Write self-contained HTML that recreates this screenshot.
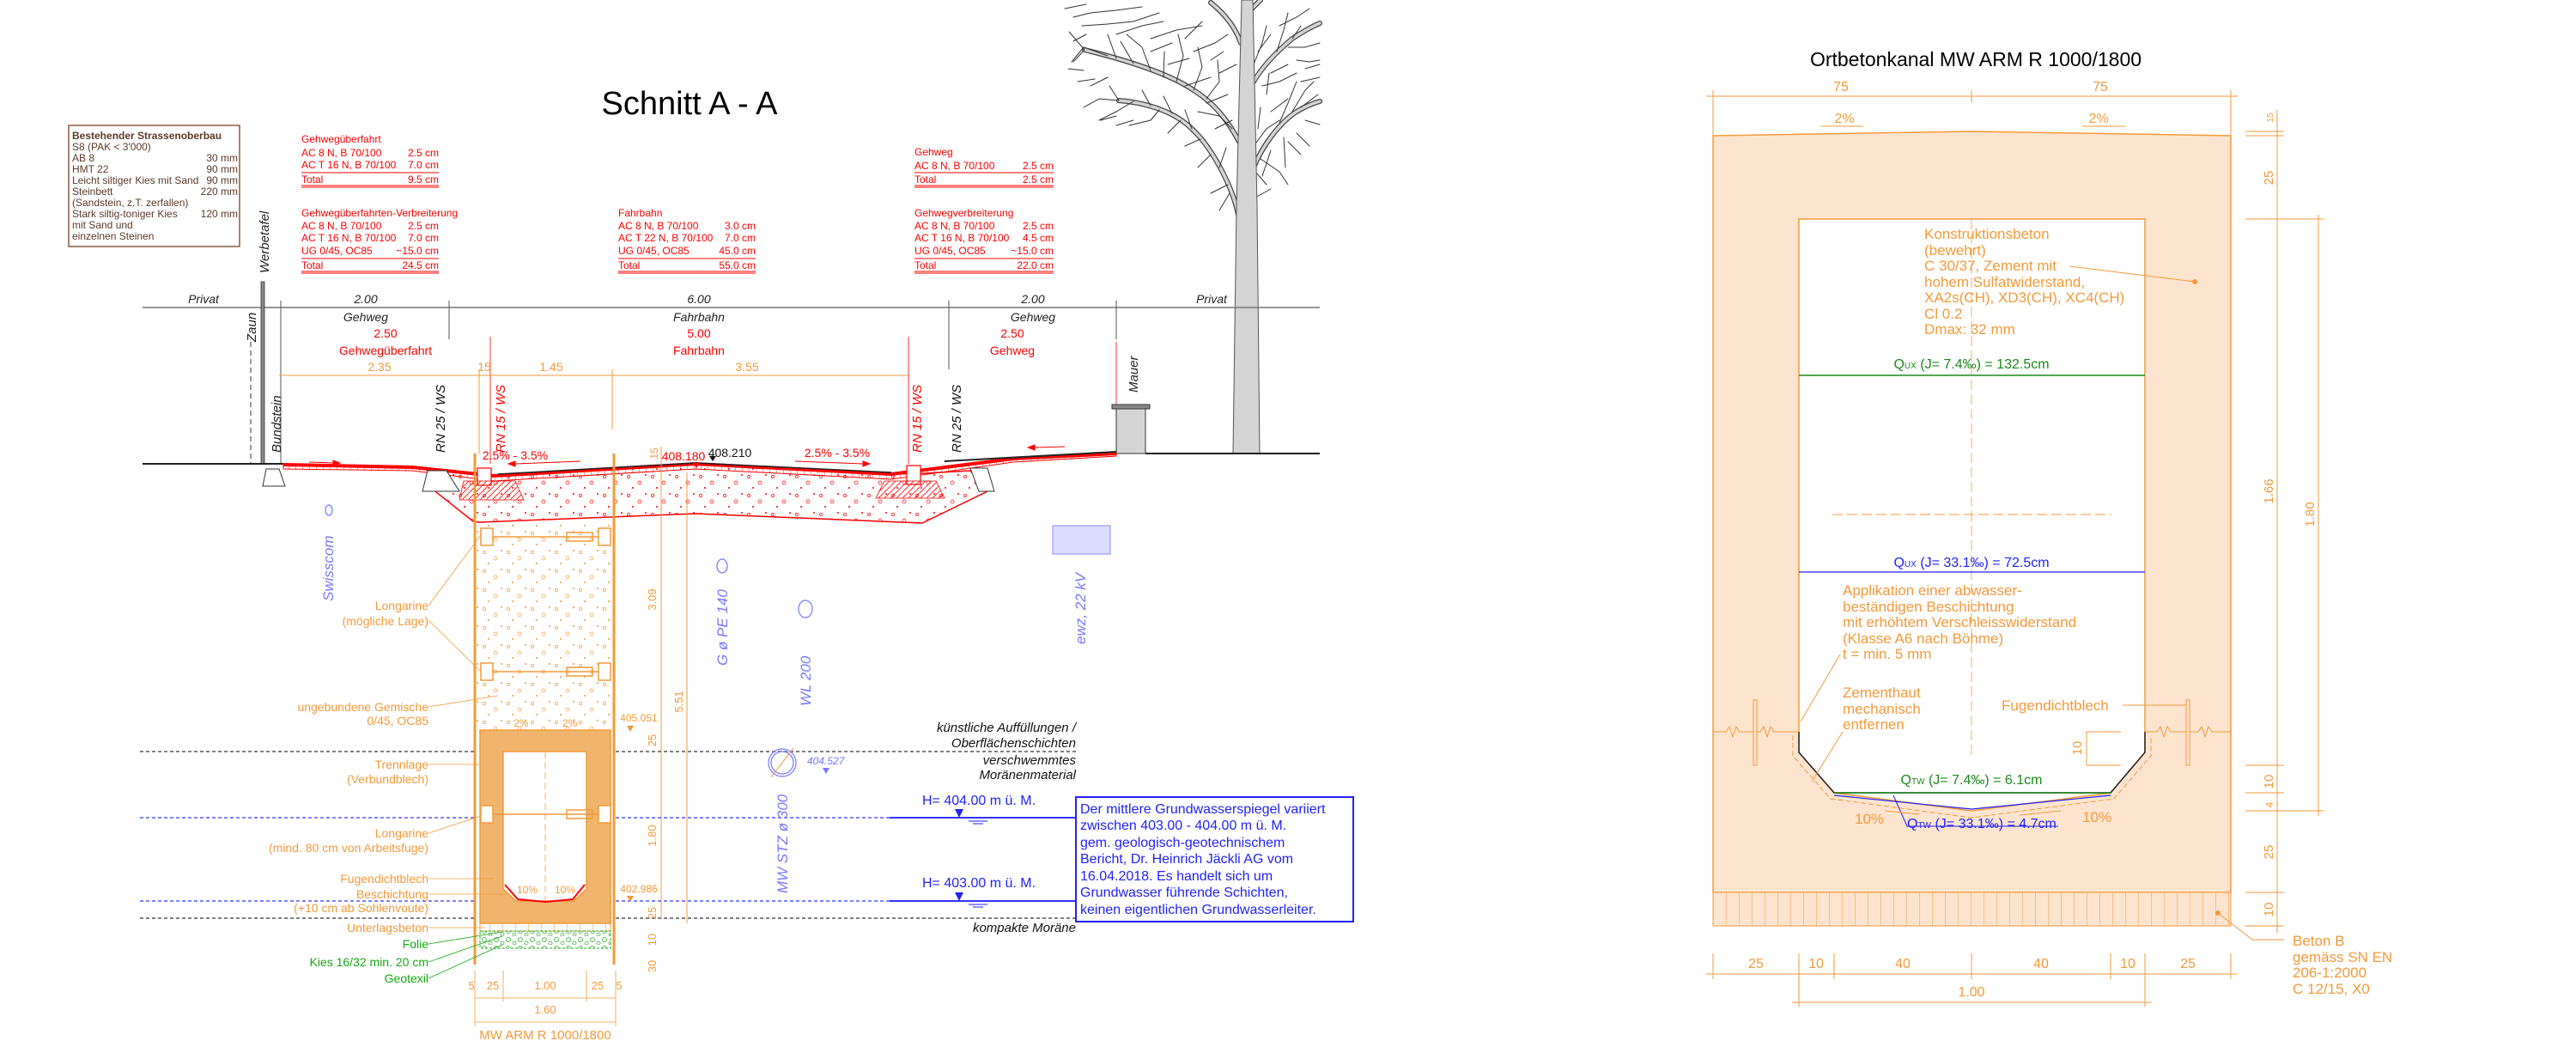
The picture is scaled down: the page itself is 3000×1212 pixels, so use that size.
<!DOCTYPE html>
<html><head><meta charset="utf-8"><style>
html,body{margin:0;padding:0;background:#fff}
svg{display:block}
text{font-family:"Liberation Sans",sans-serif}
</style></head><body>
<svg width="3000" height="1212" viewBox="0 0 3000 1212" xmlns="http://www.w3.org/2000/svg">
<defs>
<pattern id="grav" width="28" height="22" patternUnits="userSpaceOnUse">
<circle cx="4" cy="5" r="1.6" fill="none" stroke="#f00" stroke-width="0.7"/><circle cx="17" cy="12" r="2" fill="none" stroke="#f00" stroke-width="0.7"/><circle cx="9" cy="18" r="1" fill="#f00"/><circle cx="24" cy="3" r="1" fill="#f00"/>
</pattern>
<pattern id="gravo" width="28" height="22" patternUnits="userSpaceOnUse">
<circle cx="4" cy="5" r="1.6" fill="none" stroke="#f39a3a" stroke-width="0.7"/><circle cx="17" cy="12" r="2" fill="none" stroke="#f39a3a" stroke-width="0.7"/><circle cx="9" cy="18" r="1" fill="#f39a3a"/><circle cx="24" cy="3" r="1" fill="#f39a3a"/>
</pattern>
<pattern id="gravg" width="14" height="10" patternUnits="userSpaceOnUse">
<circle cx="4" cy="4" r="2.5" fill="none" stroke="#2a2" stroke-width="0.7"/><circle cx="11" cy="8" r="2" fill="none" stroke="#2a2" stroke-width="0.7"/>
</pattern>
<pattern id="vhat" width="8" height="10" patternUnits="userSpaceOnUse"><line x1="0" y1="0" x2="0" y2="10" stroke="#f00" stroke-width="0.8"/></pattern>
<pattern id="vhato" width="15" height="50" patternUnits="userSpaceOnUse"><line x1="0" y1="0" x2="0" y2="50" stroke="#f39a3a" stroke-width="1"/></pattern>
<pattern id="dhat" width="7" height="7" patternUnits="userSpaceOnUse"><line x1="0" y1="7" x2="7" y2="0" stroke="#f00" stroke-width="0.8"/></pattern>
</defs>

<!-- ===================== LEFT DRAWING ===================== -->
<text x="803" y="133" font-size="38" text-anchor="middle">Schnitt A - A</text>

<rect x="80" y="146" width="199" height="141" fill="none" stroke="#8a5a40" stroke-width="1.5"/>
<g font-size="12" fill="#5a3a2a">
<text x="84" y="162" font-weight="bold">Bestehender Strassenoberbau</text>
<text x="84" y="175">S8 (PAK &lt; 3'000)</text>
<text x="84" y="188">AB 8</text><text x="277" y="188" text-anchor="end">30 mm</text>
<text x="84" y="201">HMT 22</text><text x="277" y="201" text-anchor="end">90 mm</text>
<text x="84" y="214">Leicht siltiger Kies mit Sand</text><text x="277" y="214" text-anchor="end">90 mm</text>
<text x="84" y="227">Steinbett</text><text x="277" y="227" text-anchor="end">220 mm</text>
<text x="84" y="240">(Sandstein, z.T. zerfallen)</text>
<text x="84" y="253">Stark siltig-toniger Kies</text><text x="277" y="253" text-anchor="end">120 mm</text>
<text x="84" y="266">mit Sand und</text>
<text x="84" y="279">einzelnen Steinen</text>
</g>

<g font-size="12" fill="#f00">
<text x="351" y="166">Gehwegüberfahrt</text>
<text x="351" y="182">AC 8 N, B 70/100</text><text x="511" y="182" text-anchor="end">2.5 cm</text>
<text x="351" y="196">AC T 16 N, B 70/100</text><text x="511" y="196" text-anchor="end">7.0 cm</text>
<text x="351" y="213">Total</text><text x="511" y="213" text-anchor="end">9.5 cm</text>
<text x="351" y="252">Gehwegüberfahrten-Verbreiterung</text>
<text x="351" y="267">AC 8 N, B 70/100</text><text x="511" y="267" text-anchor="end">2.5 cm</text>
<text x="351" y="281">AC T 16 N, B 70/100</text><text x="511" y="281" text-anchor="end">7.0 cm</text>
<text x="351" y="296">UG 0/45, OC85</text><text x="511" y="296" text-anchor="end">~15.0 cm</text>
<text x="351" y="313">Total</text><text x="511" y="313" text-anchor="end">24.5 cm</text>
<text x="720" y="252">Fahrbahn</text>
<text x="720" y="267">AC 8 N, B 70/100</text><text x="880" y="267" text-anchor="end">3.0 cm</text>
<text x="720" y="281">AC T 22 N, B 70/100</text><text x="880" y="281" text-anchor="end">7.0 cm</text>
<text x="720" y="296">UG 0/45, OC85</text><text x="880" y="296" text-anchor="end">45.0 cm</text>
<text x="720" y="313">Total</text><text x="880" y="313" text-anchor="end">55.0 cm</text>
<text x="1065" y="181">Gehweg</text>
<text x="1065" y="197">AC 8 N, B 70/100</text><text x="1227" y="197" text-anchor="end">2.5 cm</text>
<text x="1065" y="213">Total</text><text x="1227" y="213" text-anchor="end">2.5 cm</text>
<text x="1065" y="252">Gehwegverbreiterung</text>
<text x="1065" y="267">AC 8 N, B 70/100</text><text x="1227" y="267" text-anchor="end">2.5 cm</text>
<text x="1065" y="281">AC T 16 N, B 70/100</text><text x="1227" y="281" text-anchor="end">4.5 cm</text>
<text x="1065" y="296">UG 0/45, OC85</text><text x="1227" y="296" text-anchor="end">~15.0 cm</text>
<text x="1065" y="313">Total</text><text x="1227" y="313" text-anchor="end">22.0 cm</text>
</g>
<g stroke="#f00" stroke-width="1">
<line x1="351" y1="201" x2="511" y2="201"/><line x1="351" y1="216" x2="511" y2="216"/><line x1="351" y1="218" x2="511" y2="218"/>
<line x1="351" y1="301" x2="511" y2="301"/><line x1="351" y1="316" x2="511" y2="316"/><line x1="351" y1="318" x2="511" y2="318"/>
<line x1="720" y1="301" x2="880" y2="301"/><line x1="720" y1="316" x2="880" y2="316"/><line x1="720" y1="318" x2="880" y2="318"/>
<line x1="1065" y1="201" x2="1227" y2="201"/><line x1="1065" y1="216" x2="1227" y2="216"/><line x1="1065" y1="218" x2="1227" y2="218"/>
<line x1="1065" y1="301" x2="1227" y2="301"/><line x1="1065" y1="316" x2="1227" y2="316"/><line x1="1065" y1="318" x2="1227" y2="318"/>
</g>

<!-- tree -->
<g fill="none" stroke-linecap="round">
<g stroke="#444" stroke-width="6">
<path d="M1442,250 C1435,215 1410,170 1388,150 C1370,132 1340,120 1303,117"/>
<path d="M1443,165 C1430,140 1414,120 1390,105 C1365,88 1320,72 1263,58"/>
<path d="M1445,50 C1438,30 1425,15 1410,3"/>
<path d="M1460,195 C1470,170 1490,143 1510,130 C1520,124 1530,120 1537,118"/>
<path d="M1460,95 C1470,78 1487,60 1505,45 C1520,35 1530,30 1537,27"/>
<path d="M1456,12 L1468,0"/>
</g>
<g stroke="#d4d4d4" stroke-width="3.5">
<path d="M1442,250 C1435,215 1410,170 1388,150 C1370,132 1340,120 1303,117"/>
<path d="M1443,165 C1430,140 1414,120 1390,105 C1365,88 1320,72 1263,58"/>
<path d="M1445,50 C1438,30 1425,15 1410,3"/>
<path d="M1460,195 C1470,170 1490,143 1510,130 C1520,124 1530,120 1537,118"/>
<path d="M1460,95 C1470,78 1487,60 1505,45 C1520,35 1530,30 1537,27"/>
<path d="M1456,12 L1468,0"/>
</g>
<g stroke="#333" stroke-width="1">
<path d="M1263,58 L1245,37 M1263,58 L1250,72 M1290,65 L1262,55 L1248,72 M1300,68 L1290,40 M1320,74 L1305,48 M1340,82 L1330,55 L1312,40 M1355,90 L1356,60 M1370,95 L1378,65 L1372,40 M1390,105 L1400,78 L1395,55 M1405,115 L1420,95 L1418,70"/>
<path d="M1303,117 L1280,115 L1262,125 M1303,117 L1292,100 M1320,118 L1300,130 L1280,140 M1340,123 L1330,105 M1350,128 L1340,140 L1315,146 M1365,132 L1355,112 M1375,140 L1360,155 M1388,150 L1380,128 M1398,162 L1380,170 M1410,180 L1395,195 M1420,195 L1428,172 M1430,215 L1410,225 M1432,225 L1420,245"/>
<path d="M1250,20 L1270,15 L1300,12 L1330,8 M1240,10 L1265,5 M1260,30 L1290,28 L1320,25 L1350,15 M1300,40 L1330,30 L1355,25 M1340,45 L1370,35 L1400,30 M1380,45 L1400,25 M1390,60 L1415,50 L1430,40 M1410,70 L1425,60"/>
<path d="M1250,48 L1265,40 M1244,80 L1262,82 M1255,95 L1275,92 M1270,100 L1290,90 M1282,140 L1300,135 M1300,146 L1320,140"/>
<path d="M1405,120 L1430,110 M1395,130 L1420,135 L1435,150 M1415,150 L1435,140 M1380,100 L1410,90 M1360,75 L1385,68 M1340,60 L1365,50 M1420,85 L1440,75"/>
<path d="M1460,170 L1475,150 L1490,140 M1465,150 L1468,125 M1475,110 L1478,85 M1480,130 L1500,115 M1490,143 L1500,120 L1510,95 M1505,130 L1520,105 L1530,95 M1515,125 L1535,110 M1520,140 L1537,145 M1510,155 L1525,170 M1495,160 L1497,195 M1480,175 L1470,205 M1500,165 L1515,180"/>
<path d="M1460,75 L1470,50 L1475,30 M1465,60 L1480,40 M1487,60 L1495,35 L1500,15 M1490,30 L1510,20 L1525,10 M1500,55 L1520,55 L1537,50 M1505,45 L1515,30 M1510,70 L1525,72 L1537,70 M1470,100 L1490,95 L1510,85 M1480,85 L1500,75 M1515,95 L1537,90 M1520,80 L1537,75"/>
<path d="M1462,200 L1475,215 M1468,185 L1490,200 L1500,215 M1462,230 L1480,220"/>
</g>
</g>
<polygon points="1446,0 1459,0 1464,240 1467,528 1436,528 1440,240" fill="#d4d4d4" stroke="#555" stroke-width="1"/>

<line x1="166" y1="358" x2="1537" y2="358" stroke="#777" stroke-width="1.5"/>
<g font-size="14" font-style="italic" fill="#222" text-anchor="middle">
<text x="237" y="353">Privat</text><text x="1411" y="353">Privat</text>
<text x="426" y="353">2.00</text><text x="814" y="353">6.00</text><text x="1203" y="353">2.00</text>
<text x="426" y="374">Gehweg</text><text x="814" y="374">Fahrbahn</text><text x="1203" y="374">Gehweg</text>
</g>
<g stroke="#555" stroke-width="1">
<line x1="327" y1="350" x2="327" y2="540"/><line x1="523" y1="350" x2="523" y2="395"/><line x1="1105" y1="350" x2="1105" y2="430"/><line x1="1300" y1="350" x2="1300" y2="395"/>
</g>
<g font-size="14" fill="#f00" text-anchor="middle">
<text x="449" y="393">2.50</text><text x="814" y="393">5.00</text><text x="1179" y="393">2.50</text>
<text x="449" y="413">Gehwegüberfahrt</text><text x="814" y="413">Fahrbahn</text><text x="1179" y="413">Gehweg</text>
</g>
<g stroke="#f00" stroke-width="0.8"><line x1="571" y1="392" x2="571" y2="540"/><line x1="1058" y1="392" x2="1058" y2="540"/><line x1="1300" y1="398" x2="1300" y2="512"/></g>
<g font-size="14" fill="#f39a3a" text-anchor="middle">
<text x="442" y="432">2.35</text><text x="564" y="432">15</text><text x="642" y="432">1.45</text><text x="870" y="432">3.55</text>
</g>
<line x1="325" y1="437" x2="1060" y2="437" stroke="#f39a3a" stroke-width="1"/>
<g stroke="#f39a3a" stroke-width="1"><line x1="558" y1="430" x2="558" y2="528"/><line x1="713" y1="430" x2="713" y2="500"/></g>

<g font-size="15" font-style="italic">
<text transform="translate(313,318) rotate(-90)" fill="#222">Werbetafel</text>
<text transform="translate(298,398) rotate(-90)" fill="#222">Zaun</text>
<text transform="translate(327,527) rotate(-90)" fill="#222">Bundstein</text>
<text transform="translate(518,527) rotate(-90)" fill="#111">RN 25 / WS</text>
<text transform="translate(588,527) rotate(-90)" fill="#f00">RN 15 / WS</text>
<text transform="translate(1073,527) rotate(-90)" fill="#f00">RN 15 / WS</text>
<text transform="translate(1119,527) rotate(-90)" fill="#111">RN 25 / WS</text>
<text transform="translate(1325,457) rotate(-90)" fill="#222">Mauer</text>
</g>
<line x1="292" y1="398" x2="292" y2="540" stroke="#333" stroke-dasharray="6,4"/>
<rect x="304" y="328" width="4" height="212" fill="#888" stroke="#333" stroke-width="0.8"/>

<line x1="166" y1="540" x2="330" y2="540" stroke="#222" stroke-width="2"/>
<line x1="1334" y1="528" x2="1537" y2="528" stroke="#222" stroke-width="2"/>
<rect x="1300" y="476" width="34" height="52" fill="#d4d4d4" stroke="#333"/>
<rect x="1295" y="471" width="44" height="5" fill="#888" stroke="#333"/>

<polygon points="498,565 551,607 558,608 810,598 1074,609 1150,572 1130,548 1060,552 810,540 576,553 520,548" fill="url(#grav)" stroke="#f00" stroke-width="1.5"/>
<polygon points="330,540 480,543 576,553 810,539 1038,551 1180,533 1300,528 1300,531 1180,538 1038,558 810,546 576,560 480,548 330,546" fill="url(#vhat)" stroke="#f00" stroke-width="1"/>
<polyline points="330,541 480,544 576,554 810,540 1038,552 1180,534 1300,528" fill="none" stroke="#f00" stroke-width="4"/>
<line x1="1100" y1="537" x2="1300" y2="526" stroke="#222" stroke-width="2"/>
<polyline points="580,552 810,539 1038,550" fill="none" stroke="#222" stroke-width="1.5"/>
<g fill="#fff" stroke="#333" stroke-width="1">
<polygon points="310,546 325,546 332,566 306,566"/>
<polygon points="498,548 520,548 535,572 492,572"/>
<polygon points="1130,545 1150,545 1158,572 1140,572"/>
</g>
<g fill="#fff" stroke="#f00" stroke-width="1.2">
<rect x="556" y="545" width="16" height="20"/><rect x="1056" y="542" width="16" height="22"/>
</g>
<polygon points="540,560 600,560 610,582 535,582" fill="url(#dhat)" stroke="#f00" stroke-width="0.8"/>
<polygon points="1030,560 1090,560 1100,580 1020,580" fill="url(#dhat)" stroke="#f00" stroke-width="0.8"/>
<g fill="#f00" stroke="#f00">
<line x1="360" y1="538" x2="388" y2="539"/><polygon points="388,536 396,539 388,542"/>
<line x1="600" y1="540" x2="676" y2="537"/><polygon points="600,537 592,540 600,543"/>
<line x1="926" y1="537" x2="1005" y2="540"/><polygon points="1005,537 1013,540 1005,543"/>
<line x1="1205" y1="521" x2="1240" y2="520"/><polygon points="1205,518 1197,521 1205,524"/>
</g>
<g font-size="14" text-anchor="middle">
<text x="600" y="535" fill="#f00">2.5% - 3.5%</text>
<text x="975" y="532" fill="#f00">2.5% - 3.5%</text>
<text x="796" y="536" fill="#f00">408.180</text>
<text x="850" y="532" fill="#111">408.210</text>
<text transform="translate(766,528) rotate(-90)" fill="#f39a3a" font-size="12">15</text>
</g>
<polygon points="807,539 811,545 815,539" fill="#f00"/>
<polygon points="826,531 830,537 834,531" fill="#111"/>

<rect x="555" y="608" width="159" height="242" fill="url(#gravo)"/>
<line x1="553" y1="528" x2="553" y2="1123" stroke="#f39a3a" stroke-width="3"/>
<line x1="715" y1="528" x2="715" y2="1123" stroke="#f39a3a" stroke-width="3"/>
<line x1="770" y1="520" x2="770" y2="1070" stroke="#f39a3a" stroke-width="1"/>
<line x1="800" y1="550" x2="800" y2="1075" stroke="#f39a3a" stroke-width="1"/>
<g stroke="#f39a3a" stroke-width="1.5" fill="#fff">
<rect x="560" y="615" width="14" height="20"/><rect x="697" y="615" width="14" height="20"/><line x1="574" y1="625" x2="697" y2="625"/><rect x="660" y="620" width="30" height="10" fill="none"/>
<rect x="560" y="772" width="14" height="20"/><rect x="697" y="772" width="14" height="20"/><line x1="574" y1="782" x2="697" y2="782"/><rect x="660" y="777" width="30" height="10" fill="none"/>
</g>
<rect x="559" y="850" width="152" height="225" fill="#f0b46c" stroke="#f39a3a" stroke-width="1.5"/>
<polygon points="586,875 683,875 683,1035 668,1049 601,1049 586,1035" fill="#fff" stroke="#f39a3a" stroke-width="1.5"/>
<polyline points="588,1030 603,1047 635,1050 667,1047 681,1030" fill="none" stroke="#f00" stroke-width="2"/>
<line x1="635" y1="875" x2="635" y2="1049" stroke="#f39a3a" stroke-dasharray="8,4" stroke-width="0.8"/>
<g stroke="#f39a3a" stroke-width="1.5" fill="#fff">
<rect x="560" y="938" width="14" height="20"/><rect x="697" y="938" width="14" height="20"/><line x1="574" y1="948" x2="697" y2="948"/><rect x="660" y="943" width="30" height="10" fill="none"/>
</g>
<rect x="559" y="1075" width="152" height="9" fill="url(#vhato)" stroke="#f39a3a"/>
<rect x="559" y="1084" width="152" height="20" fill="url(#gravg)" stroke="#2a2" stroke-dasharray="3,2"/>
<g font-size="12" fill="#f39a3a"><text x="598" y="846">2%</text><text x="655" y="846">2%</text><text x="602" y="1040">10%</text><text x="646" y="1040">10%</text></g>

<g stroke-width="1.5" stroke-dasharray="4,3">
<line x1="163" y1="875" x2="553" y2="875" stroke="#555"/><line x1="717" y1="875" x2="1253" y2="875" stroke="#555"/>
<line x1="163" y1="952" x2="553" y2="952" stroke="#55f"/><line x1="717" y1="952" x2="1036" y2="952" stroke="#55f"/>
<line x1="163" y1="1049" x2="553" y2="1049" stroke="#55f"/><line x1="717" y1="1049" x2="1036" y2="1049" stroke="#55f"/>
<line x1="163" y1="1069" x2="553" y2="1069" stroke="#555"/><line x1="717" y1="1069" x2="1253" y2="1069" stroke="#555"/>
</g>
<line x1="1036" y1="952" x2="1253" y2="952" stroke="#33f" stroke-width="2"/>
<line x1="1036" y1="1049" x2="1253" y2="1049" stroke="#33f" stroke-width="2"/>

<g font-size="14" fill="#f39a3a" text-anchor="end">
<text x="499" y="710">Longarine</text><text x="499" y="728">(mögliche Lage)</text>
<text x="499" y="828">ungebundene Gemische</text><text x="499" y="844">0/45, OC85</text>
<text x="499" y="895">Trennlage</text><text x="499" y="912">(Verbundblech)</text>
<text x="499" y="975">Longarine</text><text x="499" y="992">(mind. 80 cm von Arbeitsfuge)</text>
<text x="499" y="1028">Fugendichtblech</text><text x="499" y="1046">Beschichtung</text><text x="499" y="1062">(+10 cm ab Sohlenvoute)</text>
<text x="499" y="1085">Unterlagsbeton</text>
</g>
<g font-size="14" fill="#1a1" text-anchor="end">
<text x="499" y="1104">Folie</text><text x="499" y="1125">Kies 16/32 min. 20 cm</text><text x="499" y="1144">Geotexil</text>
</g>
<g stroke="#f39a3a" stroke-width="0.8" fill="none">
<polyline points="499,705 560,623"/><polyline points="499,722 560,782"/><polyline points="499,823 580,810"/>
<line x1="499" y1="890" x2="559" y2="890"/><line x1="499" y1="970" x2="560" y2="950"/><line x1="499" y1="1023" x2="575" y2="1023"/><line x1="499" y1="1041" x2="590" y2="1041"/><line x1="499" y1="1080" x2="565" y2="1080"/>
</g>
<g stroke="#1a1" stroke-width="0.8"><line x1="499" y1="1099" x2="585" y2="1085"/><line x1="499" y1="1120" x2="585" y2="1090"/><line x1="499" y1="1139" x2="585" y2="1100"/></g>

<g font-size="13" fill="#f39a3a" text-anchor="middle">
<text x="549" y="1152">5</text><text x="574" y="1152">25</text><text x="635" y="1152">1.00</text><text x="696" y="1152">25</text><text x="721" y="1152">5</text>
<text x="635" y="1180">1.60</text>
<text x="635" y="1210" font-size="15">MW ARM R 1000/1800</text>
</g>
<g stroke="#f39a3a" stroke-width="0.8">
<line x1="553" y1="1162" x2="717" y2="1162"/><line x1="553" y1="1190" x2="717" y2="1190"/>
<line x1="553" y1="1130" x2="553" y2="1195"/><line x1="717" y1="1130" x2="717" y2="1195"/><line x1="586" y1="1130" x2="586" y2="1166"/><line x1="683" y1="1130" x2="683" y2="1166"/>
</g>
<g font-size="13" fill="#f39a3a" text-anchor="middle">
<text transform="translate(764,698) rotate(-90)">3.09</text>
<text transform="translate(795,817) rotate(-90)">5.51</text>
<text transform="translate(764,973) rotate(-90)">1.80</text>
<text transform="translate(764,862) rotate(-90)">25</text>
<text transform="translate(764,1063) rotate(-90)">25</text>
<text transform="translate(764,1094) rotate(-90)">10</text>
<text transform="translate(764,1125) rotate(-90)">30</text>
<text x="744" y="840" font-size="12">405.051</text>
<text x="744" y="1039" font-size="12">402.986</text>
</g>
<polygon points="730,845 738,845 734,852" fill="#f39a3a"/><polygon points="730,1043 738,1043 734,1050" fill="#f39a3a"/>

<g fill="none" stroke="#77f" stroke-width="1.2">
<ellipse cx="383" cy="594" rx="4" ry="6"/>
<ellipse cx="841" cy="659" rx="6" ry="8"/>
<ellipse cx="938" cy="709" rx="8" ry="10"/>
<circle cx="911" cy="888" r="16"/><circle cx="911" cy="888" r="13"/>
</g>
<line x1="898" y1="905" x2="924" y2="871" stroke="#f39a3a"/>
<rect x="1226" y="612" width="67" height="33" fill="#dcdcff" stroke="#88f"/>
<g font-size="17" font-style="italic" fill="#77f">
<text transform="translate(388,700) rotate(-90)">Swisscom</text>
<text transform="translate(847,775) rotate(-90)">G ø PE 140</text>
<text transform="translate(944,822) rotate(-90)">WL 200</text>
<text transform="translate(1264,750) rotate(-90)">ewz, 22 kV</text>
<text transform="translate(917,1040) rotate(-90)">MW STZ ø 300</text>
<text x="940" y="890" font-size="12" font-style="italic">404.527</text>
</g>
<polygon points="958,894 966,894 962,901" fill="#77f"/>

<g font-size="15" font-style="italic" fill="#111" text-anchor="end">
<text x="1253" y="852">künstliche Auffüllungen /</text><text x="1253" y="870">Oberflächenschichten</text>
<text x="1253" y="890">verschwemmtes</text><text x="1253" y="907">Moränenmaterial</text>
<text x="1253" y="1085">kompakte Moräne</text>
</g>
<g font-size="16" fill="#22f">
<text x="1074" y="937">H= 404.00 m ü. M.</text><text x="1074" y="1033">H= 403.00 m ü. M.</text>
</g>
<polygon points="1112,942 1122,942 1117,952" fill="#22f"/><polygon points="1112,1039 1122,1039 1117,1049" fill="#22f"/>
<g stroke="#22f"><line x1="1128" y1="956" x2="1150" y2="956"/><line x1="1133" y1="959" x2="1145" y2="959"/><line x1="1128" y1="1053" x2="1150" y2="1053"/><line x1="1133" y1="1056" x2="1145" y2="1056"/></g>
<rect x="1253" y="928" width="323" height="145" fill="#fff" stroke="#22f" stroke-width="2"/>
<g font-size="16" fill="#22f">
<text x="1258" y="947">Der mittlere Grundwasserspiegel variiert</text>
<text x="1258" y="966">zwischen 403.00 - 404.00 m ü. M.</text>
<text x="1258" y="986">gem. geologisch-geotechnischem</text>
<text x="1258" y="1005">Bericht, Dr. Heinrich Jäckli AG vom</text>
<text x="1258" y="1025">16.04.2018. Es handelt sich um</text>
<text x="1258" y="1044">Grundwasser führende Schichten,</text>
<text x="1258" y="1064">keinen eigentlichen Grundwasserleiter.</text>
</g>

<!-- ===================== RIGHT DRAWING ===================== -->
<text x="2301" y="77" font-size="23" text-anchor="middle">Ortbetonkanal MW ARM R 1000/1800</text>
<g stroke="#f39a3a" stroke-width="1" fill="none">
<line x1="1987" y1="112" x2="2606" y2="112"/>
<line x1="1995" y1="105" x2="1995" y2="158"/><line x1="2296" y1="105" x2="2296" y2="119"/><line x1="2598" y1="105" x2="2598" y2="158"/>
</g>
<g font-size="16" fill="#f39a3a" text-anchor="middle">
<text x="2144" y="106">75</text><text x="2446" y="106">75</text>
<text x="2148" y="143">2%</text><text x="2444" y="143">2%</text>
</g>
<g stroke="#f39a3a"><line x1="2120" y1="147" x2="2170" y2="147"/><line x1="2425" y1="147" x2="2475" y2="147"/></g>
<polygon points="1995,158 2296,153 2598,158 2598,1039 1995,1039" fill="#fde4cf" stroke="#f39a3a" stroke-width="1.5"/>
<rect x="1995" y="1039" width="603" height="39" fill="#fde4cf" stroke="#f39a3a" stroke-width="1"/>
<rect x="1995" y="1039" width="603" height="39" fill="url(#vhato)"/>
<polygon points="2095,255 2498,255 2498,852 2498,876 2458,923 2296,944 2136,923 2095,876" fill="#fff" stroke="#f39a3a" stroke-width="1.5"/>
<polyline points="2095,852 2095,876 2136,923 2458,923 2498,876 2498,852" fill="none" stroke="#222" stroke-width="1.5"/>
<polyline points="2088,856 2088,880 2132,930 2296,952 2462,930 2505,880 2505,856" fill="none" stroke="#f39a3a" stroke-width="1" stroke-dasharray="6,3"/>
<line x1="2296" y1="255" x2="2296" y2="880" stroke="#f39a3a" stroke-dasharray="12,5" stroke-width="0.8"/>
<line x1="2134" y1="599" x2="2459" y2="599" stroke="#f39a3a" stroke-dasharray="12,5" stroke-width="1"/>
<line x1="2095" y1="437" x2="2498" y2="437" stroke="#1a8a1a" stroke-width="1.5"/>
<line x1="2095" y1="666" x2="2498" y2="666" stroke="#22f" stroke-width="1.2"/>
<line x1="2136" y1="923" x2="2458" y2="923" stroke="#1a8a1a" stroke-width="1.5"/>
<polyline points="2136,926 2296,942 2458,926" fill="none" stroke="#22f" stroke-width="1.2"/>
<polyline points="2205,926 2221,962 2397,962" fill="none" stroke="#22f" stroke-width="1"/>
<polyline points="1995,852 2010,852 2014,846 2018,858 2022,846 2026,852 2044,852 2050,852 2054,846 2058,858 2062,846 2066,852 2095,852" fill="none" stroke="#f39a3a"/>
<polyline points="2498,852 2512,852 2516,846 2520,858 2524,846 2528,852 2560,852 2564,846 2568,858 2572,846 2576,852 2598,852" fill="none" stroke="#f39a3a"/>
<rect x="2042" y="815" width="4" height="76" fill="#fde4cf" stroke="#f39a3a"/>
<rect x="2546" y="815" width="4" height="76" fill="#fde4cf" stroke="#f39a3a"/>
<g font-size="17" fill="#f39a3a">
<text x="2241" y="278">Konstruktionsbeton</text><text x="2241" y="297">(bewehrt)</text><text x="2241" y="315">C 30/37, Zement mit</text>
<text x="2241" y="334">hohem Sulfatwiderstand,</text><text x="2241" y="352">XA2s(CH), XD3(CH), XC4(CH)</text>
<text x="2241" y="371">Cl 0.2</text><text x="2241" y="389">Dmax: 32 mm</text>
<text x="2146" y="693">Applikation einer abwasser-</text><text x="2146" y="712">beständigen Beschichtung</text>
<text x="2146" y="730">mit erhöhtem Verschleisswiderstand</text><text x="2146" y="749">(Klasse A6 nach Böhme)</text>
<text x="2146" y="767">t = min. 5 mm</text>
<text x="2146" y="812">Zementhaut</text><text x="2146" y="831">mechanisch</text><text x="2146" y="849">entfernen</text>
<text x="2331" y="827">Fugendichtblech</text>
<text x="2160" y="959">10%</text><text x="2425" y="957">10%</text>
<text x="2670" y="1101">Beton B</text><text x="2670" y="1120">gemäss SN EN</text><text x="2670" y="1138">206-1:2000</text><text x="2670" y="1157">C 12/15, X0</text>
</g>
<g stroke="#f39a3a" stroke-width="1" fill="none">
<line x1="2410" y1="310" x2="2556" y2="328"/><line x1="2143" y1="762" x2="2097" y2="840"/><line x1="2146" y1="852" x2="2110" y2="910"/>
<line x1="2472" y1="821" x2="2546" y2="821"/><polyline points="2583,1063 2623,1094 2660,1094"/>
<line x1="2400" y1="944" x2="2352" y2="949"/><line x1="2195" y1="944" x2="2235" y2="948"/>
</g>
<circle cx="2556" cy="328" r="3" fill="#f39a3a"/><circle cx="2583" cy="1063" r="3" fill="#f39a3a"/>
<g font-size="16" fill="#1a8a1a" text-anchor="middle">
<text x="2296" y="429">Q<tspan font-size="10">UX</tspan> (J= 7.4‰) = 132.5cm</text>
<text x="2296" y="913">Q<tspan font-size="10">TW</tspan> (J= 7.4‰) = 6.1cm</text>
</g>
<g font-size="16" fill="#22f">
<text x="2296" y="660" text-anchor="middle">Q<tspan font-size="10">UX</tspan> (J= 33.1‰) = 72.5cm</text>
<text x="2221" y="964">Q<tspan font-size="10">TW</tspan> (J= 33.1‰) = 4.7cm</text>
</g>
<g stroke="#f39a3a" stroke-width="1">
<line x1="2652" y1="128" x2="2652" y2="1086"/><line x1="2700" y1="250" x2="2700" y2="950"/>
<line x1="2615" y1="153" x2="2660" y2="153"/><line x1="2615" y1="158" x2="2660" y2="158"/>
<line x1="2615" y1="255" x2="2706" y2="255"/><line x1="2615" y1="891" x2="2660" y2="891"/>
<line x1="2615" y1="923" x2="2660" y2="923"/><line x1="2615" y1="944" x2="2706" y2="944"/>
<line x1="2615" y1="1039" x2="2660" y2="1039"/><line x1="2615" y1="1078" x2="2660" y2="1078"/>
<line x1="2430" y1="852" x2="2470" y2="852"/><line x1="2430" y1="891" x2="2470" y2="891"/><line x1="2430" y1="852" x2="2430" y2="891"/>
</g>
<g font-size="15" fill="#f39a3a" text-anchor="middle">
<text transform="translate(2647,137) rotate(-90)" font-size="10">15</text>
<text transform="translate(2647,207) rotate(-90)">25</text>
<text transform="translate(2647,572) rotate(-90)">1.66</text>
<text transform="translate(2695,599) rotate(-90)">1.80</text>
<text transform="translate(2647,910) rotate(-90)">10</text>
<text transform="translate(2647,937) rotate(-90)" font-size="12">4</text>
<text transform="translate(2647,992) rotate(-90)">25</text>
<text transform="translate(2647,1059) rotate(-90)">10</text>
<text transform="translate(2424,871) rotate(-90)">10</text>
</g>
<g stroke="#f39a3a" stroke-width="1">
<line x1="1987" y1="1134" x2="2606" y2="1134"/><line x1="2087" y1="1167" x2="2506" y2="1167"/>
<line x1="1995" y1="1110" x2="1995" y2="1140"/><line x1="2095" y1="1110" x2="2095" y2="1172"/><line x1="2136" y1="1110" x2="2136" y2="1140"/>
<line x1="2296" y1="1110" x2="2296" y2="1140"/><line x1="2458" y1="1110" x2="2458" y2="1140"/><line x1="2498" y1="1110" x2="2498" y2="1172"/><line x1="2598" y1="1110" x2="2598" y2="1140"/>
</g>
<g font-size="16" fill="#f39a3a" text-anchor="middle">
<text x="2045" y="1127">25</text><text x="2115" y="1127">10</text><text x="2216" y="1127">40</text><text x="2377" y="1127">40</text><text x="2478" y="1127">10</text><text x="2548" y="1127">25</text>
<text x="2296" y="1160">1.00</text>
</g>
</svg>
</body></html>
